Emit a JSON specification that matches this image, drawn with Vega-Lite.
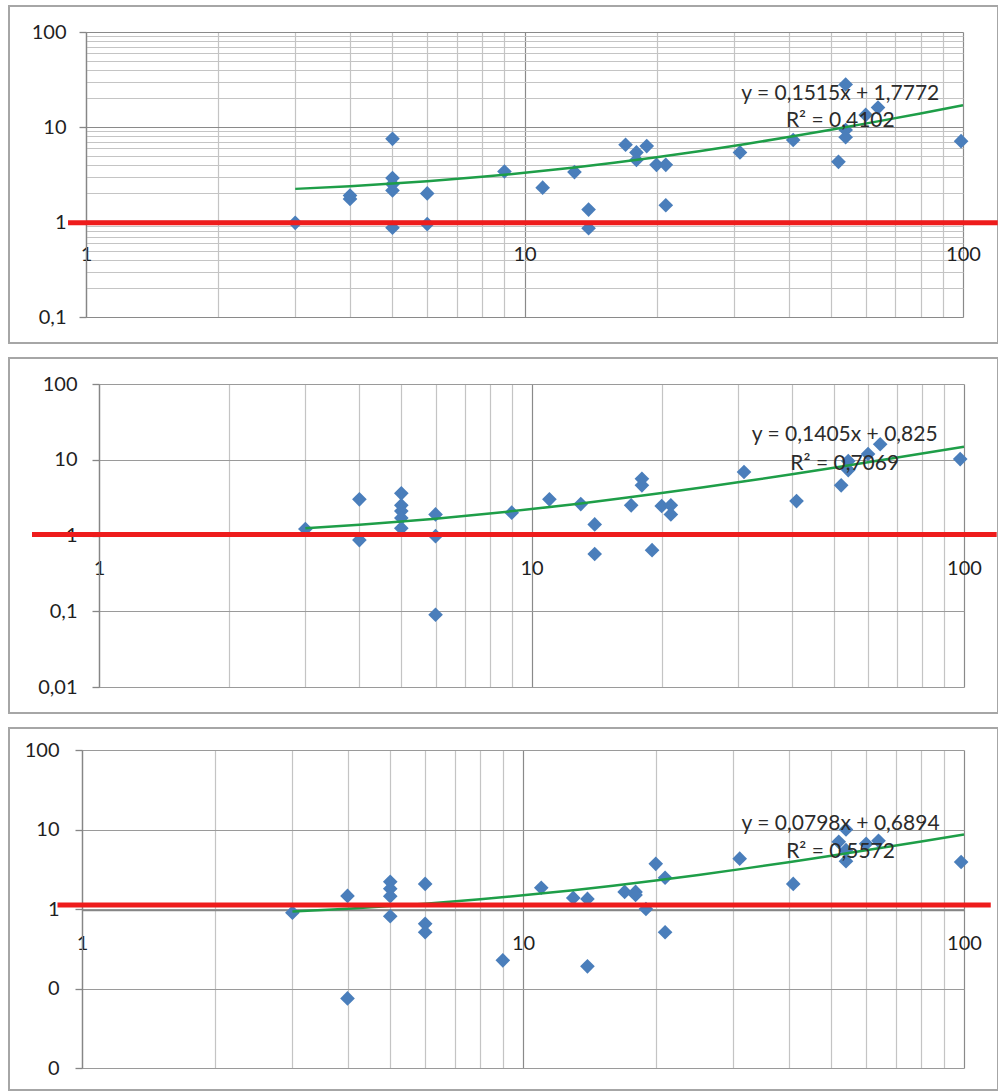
{
  "$schema": "https://vega.github.io/schema/vega-lite/v6.json",
  "padding": {"left": 8, "top": 5, "right": 0, "bottom": 0},
  "spacing": 15,
  "bounds": "flush",
  "config": {
    "view": {"stroke": "#a6a6a6", "strokeWidth": 2},
    "font": "Lato",
    "axis": {
      "labelFont": "Lato", "labelFontSize": 20, "labelColor": "#1f1f1f",
      "labelOverlap": false, "labelFlush": false, "title": null,
      "domainColor": "#868686", "domainWidth": 1.3,
      "tickColor": "#868686", "tickWidth": 1.3, "gridWidth": 1.2
    }
  },
  "datasets": {
    "p1": [{"x":3,"y":0.98},{"x":4,"y":1.75},{"x":4,"y":1.9},{"x":5,"y":7.5},{"x":5,"y":2.9},{"x":5,"y":2.5},{"x":5,"y":2.15},{"x":5,"y":0.87},{"x":6,"y":2.0},{"x":6,"y":0.95},{"x":9,"y":3.4},{"x":11,"y":2.3},{"x":13,"y":3.35},{"x":14,"y":1.35},{"x":14,"y":0.86},{"x":17,"y":6.5},{"x":18,"y":5.4},{"x":18,"y":4.5},{"x":19,"y":6.3},{"x":20,"y":4.0},{"x":21,"y":4.0},{"x":21,"y":1.5},{"x":31,"y":5.4},{"x":41,"y":7.3},{"x":52,"y":4.3},{"x":54,"y":28},{"x":54,"y":9.3},{"x":54,"y":7.8},{"x":60,"y":13.4},{"x":64,"y":16},{"x":99,"y":7.1}],
    "p2": [{"x":3,"y":1.22},{"x":4,"y":3.0},{"x":4,"y":0.87},{"x":5,"y":3.6},{"x":5,"y":2.5},{"x":5,"y":2.1},{"x":5,"y":1.7},{"x":5,"y":1.25},{"x":6,"y":1.9},{"x":6,"y":0.98},{"x":6,"y":0.09},{"x":9,"y":2.0},{"x":11,"y":3.0},{"x":13,"y":2.6},{"x":14,"y":1.4},{"x":14,"y":0.57},{"x":17,"y":2.5},{"x":18,"y":5.6},{"x":18,"y":4.6},{"x":19,"y":0.64},{"x":20,"y":2.45},{"x":21,"y":2.5},{"x":21,"y":1.9},{"x":31,"y":6.9},{"x":41,"y":2.85},{"x":52,"y":4.6},{"x":54,"y":7.3},{"x":54,"y":9.6},{"x":60,"y":11.9},{"x":64,"y":16},{"x":98,"y":10.2}],
    "p3": [{"x":3,"y":0.9},{"x":4,"y":1.46},{"x":4,"y":0.075},{"x":5,"y":2.2},{"x":5,"y":1.8},{"x":5,"y":1.45},{"x":5,"y":0.81},{"x":6,"y":2.07},{"x":6,"y":0.65},{"x":6,"y":0.51},{"x":9,"y":0.226},{"x":11,"y":1.85},{"x":13,"y":1.38},{"x":14,"y":1.34},{"x":14,"y":0.19},{"x":17,"y":1.64},{"x":18,"y":1.64},{"x":18,"y":1.5},{"x":19,"y":1.0},{"x":20,"y":3.7},{"x":21,"y":2.47},{"x":21,"y":0.51},{"x":31,"y":4.3},{"x":41,"y":2.07},{"x":52,"y":7.0},{"x":54,"y":10},{"x":54,"y":5.5},{"x":54,"y":4.0},{"x":60,"y":6.6},{"x":64,"y":7.2},{"x":98.5,"y":3.9}],
    "t1": [{"x":3,"y":2.232},{"x":4,"y":2.383},{"x":5,"y":2.535},{"x":6,"y":2.686},{"x":8,"y":2.989},{"x":10,"y":3.292},{"x":13,"y":3.747},{"x":16,"y":4.201},{"x":20,"y":4.807},{"x":25,"y":5.565},{"x":32,"y":6.625},{"x":40,"y":7.837},{"x":50,"y":9.352},{"x":63,"y":11.322},{"x":80,"y":13.897},{"x":100,"y":16.927}],
    "t2": [{"x":3,"y":1.247},{"x":4,"y":1.387},{"x":5,"y":1.528},{"x":6,"y":1.668},{"x":8,"y":1.949},{"x":10,"y":2.23},{"x":13,"y":2.652},{"x":16,"y":3.073},{"x":20,"y":3.635},{"x":25,"y":4.338},{"x":32,"y":5.321},{"x":40,"y":6.445},{"x":50,"y":7.85},{"x":63,"y":9.677},{"x":80,"y":12.065},{"x":100,"y":14.875}],
    "t3": [{"x":3,"y":0.929},{"x":4,"y":1.009},{"x":5,"y":1.088},{"x":6,"y":1.168},{"x":8,"y":1.328},{"x":10,"y":1.487},{"x":13,"y":1.727},{"x":16,"y":1.966},{"x":20,"y":2.285},{"x":25,"y":2.684},{"x":32,"y":3.243},{"x":40,"y":3.881},{"x":50,"y":4.679},{"x":63,"y":5.717},{"x":80,"y":7.073},{"x":100,"y":8.669}],
    "r1": [{"x":0.91,"xEnd":120,"y":0.98}],
    "r2": [{"x":0.7,"xEnd":119,"y":1.03}],
    "r3": [{"x":0.88,"xEnd":115,"y":1.12}],
    "a1": [{"x":52.5,"y":16.0,"eq":"y = 0,1515x + 1,7772","r2":"R² = 0,4102"}],
    "a2": [{"x":53,"y":13.6,"eq":"y = 0,1405x + 0,825","r2":"R² = 0,7069"}],
    "a3": [{"x":52.5,"y":7.9,"eq":"y = 0,0798x + 0,6894","r2":"R² = 0,5572"}]
  },
  "vconcat": [
    {
      "width": 989, "height": 337,
      "encoding": {
        "x": {"field": "x", "type": "quantitative",
          "scale": {"type": "log", "domain": [1, 100], "range": [77, 954], "nice": false},
          "axis": {"values": [1,2,3,4,5,6,7,8,9,10,20,30,40,50,60,70,80,90,100],
            "labelExpr": "abs(log(datum.value)/LN10 - round(log(datum.value)/LN10)) < 0.001 ? format(datum.value, 'd') : ''",
            "gridColor": {"condition": {"test": "abs(log(datum.value)/LN10 - round(log(datum.value)/LN10)) < 0.001", "value": "#8a8a8a"}, "value": "#c4c4c4"},
            "ticks": false, "tickSize": 0, "offset": -122, "labelPadding": 23}},
        "y": {"field": "y", "type": "quantitative",
          "scale": {"type": "log", "domain": [0.1, 100], "range": [311, 26], "nice": false},
          "axis": {"values": [0.1,0.2,0.3,0.4,0.5,0.6,0.7,0.8,0.9,1,2,3,4,5,6,7,8,9,10,20,30,40,50,60,70,80,90,100],
            "labelExpr": "abs(log(datum.value)/LN10 - round(log(datum.value)/LN10)) < 0.001 ? replace(format(datum.value, '~g'), '.', ',') : ''",
            "gridColor": {"condition": {"test": "abs(log(datum.value)/LN10 - round(log(datum.value)/LN10)) < 0.001", "value": "#8a8a8a"}, "value": "#c4c4c4"},
            "tickOpacity": {"condition": {"test": "abs(log(datum.value)/LN10 - round(log(datum.value)/LN10)) < 0.001", "value": 1}, "value": 0},
            "tickSize": 7, "offset": -77, "labelPadding": 13}}
      },
      "layer": [
        {"data": {"name": "p1"}, "mark": {"type": "point", "shape": "diamond", "filled": true, "size": 215, "color": "#4a7ebb", "opacity": 1}},
        {"data": {"name": "t1"}, "mark": {"type": "line", "color": "#1e9e48", "strokeWidth": 2.5}},
        {"data": {"name": "r1"}, "mark": {"type": "rule", "color": "#ee1c1c", "strokeWidth": 5},
          "encoding": {"x2": {"field": "xEnd"}}},
        {"data": {"name": "a1"}, "mark": {"type": "text", "font": "Lato", "fontSize": 21, "color": "#2b2b2b", "dy": -13.5},
          "encoding": {"text": {"field": "eq"}}},
        {"data": {"name": "a1"}, "mark": {"type": "text", "font": "Lato", "fontSize": 21, "color": "#2b2b2b", "dy": 13.5},
          "encoding": {"text": {"field": "r2"}}}
      ]
    },
    {
      "width": 989, "height": 355,
      "encoding": {
        "x": {"field": "x", "type": "quantitative",
          "scale": {"type": "log", "domain": [1, 100], "range": [90, 955], "nice": false},
          "axis": {"values": [1,2,3,4,5,6,7,8,9,10,20,30,40,50,60,70,80,90,100],
            "labelExpr": "abs(log(datum.value)/LN10 - round(log(datum.value)/LN10)) < 0.001 ? format(datum.value, 'd') : ''",
            "gridColor": {"condition": {"test": "abs(log(datum.value)/LN10 - round(log(datum.value)/LN10)) < 0.001", "value": "#8a8a8a"}, "value": "#c4c4c4"},
            "ticks": false, "tickSize": 0, "offset": -178, "labelPadding": 23}},
        "y": {"field": "y", "type": "quantitative",
          "scale": {"type": "log", "domain": [0.01, 100], "range": [329, 26], "nice": false},
          "axis": {"values": [0.01, 0.1, 1, 10, 100],
            "labelExpr": "replace(format(datum.value, '~g'), '.', ',')",
            "gridColor": "#9a9a9a",
            "tickSize": 7, "offset": -90, "labelPadding": 15}}
      },
      "layer": [
        {"data": {"name": "p2"}, "mark": {"type": "point", "shape": "diamond", "filled": true, "size": 215, "color": "#4a7ebb", "opacity": 1}},
        {"data": {"name": "t2"}, "mark": {"type": "line", "color": "#1e9e48", "strokeWidth": 2.5}},
        {"data": {"name": "r2"}, "mark": {"type": "rule", "color": "#ee1c1c", "strokeWidth": 5},
          "encoding": {"x2": {"field": "xEnd"}}},
        {"data": {"name": "a2"}, "mark": {"type": "text", "font": "Lato", "fontSize": 21, "color": "#2b2b2b", "dy": -14.5},
          "encoding": {"text": {"field": "eq"}}},
        {"data": {"name": "a2"}, "mark": {"type": "text", "font": "Lato", "fontSize": 21, "color": "#2b2b2b", "dy": 14.5},
          "encoding": {"text": {"field": "r2"}}}
      ]
    },
    {
      "width": 989, "height": 362,
      "encoding": {
        "x": {"field": "x", "type": "quantitative",
          "scale": {"type": "log", "domain": [1, 100], "range": [73, 955], "nice": false},
          "axis": {"values": [1,2,3,4,5,6,7,8,9,10,20,30,40,50,60,70,80,90,100],
            "labelExpr": "abs(log(datum.value)/LN10 - round(log(datum.value)/LN10)) < 0.001 ? format(datum.value, 'd') : ''",
            "gridColor": {"condition": {"test": "abs(log(datum.value)/LN10 - round(log(datum.value)/LN10)) < 0.001", "value": "#8a8a8a"}, "value": "#c4c4c4"},
            "ticks": false, "tickSize": 0, "offset": -180, "labelPadding": 23}},
        "y": {"field": "y", "type": "quantitative",
          "scale": {"type": "log", "domain": [0.01, 100], "range": [340, 22], "nice": false},
          "axis": {"values": [0.01, 0.1, 1, 10, 100],
            "labelExpr": "format(datum.value, '.0f')",
            "gridColor": "#9a9a9a",
            "tickSize": 7, "offset": -73, "labelPadding": 16}}
      },
      "layer": [
        {"data": {"name": "p3"}, "mark": {"type": "point", "shape": "diamond", "filled": true, "size": 215, "color": "#4a7ebb", "opacity": 1}},
        {"data": {"name": "t3"}, "mark": {"type": "line", "color": "#1e9e48", "strokeWidth": 2.5}},
        {"data": {"name": "r3"}, "mark": {"type": "rule", "color": "#ee1c1c", "strokeWidth": 5},
          "encoding": {"x2": {"field": "xEnd"}}},
        {"data": {"name": "a3"}, "mark": {"type": "text", "font": "Lato", "fontSize": 21, "color": "#2b2b2b", "dy": -14},
          "encoding": {"text": {"field": "eq"}}},
        {"data": {"name": "a3"}, "mark": {"type": "text", "font": "Lato", "fontSize": 21, "color": "#2b2b2b", "dy": 14},
          "encoding": {"text": {"field": "r2"}}}
      ]
    }
  ]
}
